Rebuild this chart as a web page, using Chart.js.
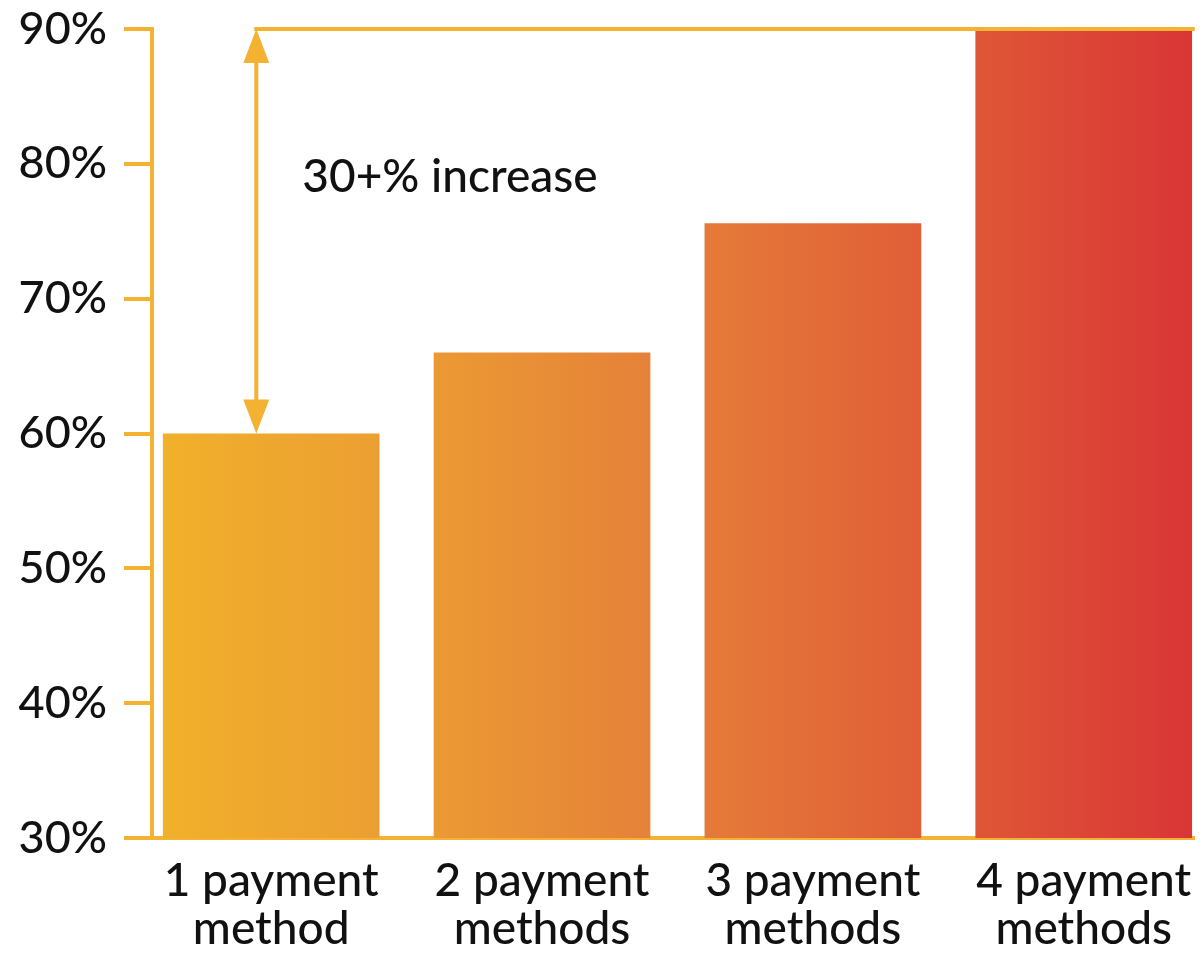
<!DOCTYPE html>
<html lang="en">
<head>
<meta charset="UTF-8" />
<title>Payment methods</title>
<script src="https://cdn.jsdelivr.net/npm/chart.js"></script>
<style>
  html, body { margin: 0; padding: 0; background: #fff; }
</style>
</head>
<body>
<canvas id="chart" width="1203" height="953"></canvas>
<script>
  const categories = [["1 payment", "method"], ["2 payment", "methods"], ["3 payment", "methods"], ["4 payment", "methods"]];
  const values = [60, 66, 75.6, 90];
  const yTicks = [30, 40, 50, 60, 70, 80, 90];
  const note = "30+% increase";

  const AXIS = "#F3B232";
  const FONT = "Lato, 'Open Sans', sans-serif";

  // gradient across the plot, yellow-orange to red
  function barFill(ctx) {
    const chart = ctx.chart;
    const area = chart.chartArea;
    if (!area) return "#E8903A";
    const g = chart.ctx.createLinearGradient(area.left, 0, area.right, 0);
    g.addColorStop(0, "#F1B12A");
    g.addColorStop(0.25, "#EB9C33");
    g.addColorStop(0.5, "#E57F3A");
    g.addColorStop(0.78, "#DF5836");
    g.addColorStop(1, "#D93536");
    return g;
  }

  // double arrow + top line + note
  const increaseArrow = {
    id: "increaseArrow",
    afterDatasetsDraw(chart) {
      const { ctx, chartArea } = chart;
      const x = chart.scales.x, y = chart.scales.y;
      const ax = x.getPixelForValue(0.945);
      const top = y.getPixelForValue(values[3]);
      const bottom = y.getPixelForValue(values[0]);
      const head = 34, half = 13;
      ctx.save();
      ctx.strokeStyle = AXIS;
      ctx.fillStyle = AXIS;
      ctx.lineWidth = 4;
      ctx.beginPath();
      ctx.moveTo(ax - 2, top);
      ctx.lineTo(chartArea.right, top);
      ctx.stroke();
      ctx.beginPath();
      ctx.moveTo(ax, top + head - 2);
      ctx.lineTo(ax, bottom - head + 2);
      ctx.stroke();
      ctx.beginPath();
      ctx.moveTo(ax, top);
      ctx.lineTo(ax - half, top + head);
      ctx.lineTo(ax + half, top + head);
      ctx.closePath();
      ctx.fill();
      ctx.beginPath();
      ctx.moveTo(ax, bottom);
      ctx.lineTo(ax - half, bottom - head);
      ctx.lineTo(ax + half, bottom - head);
      ctx.closePath();
      ctx.fill();
      ctx.fillStyle = "#111";
      ctx.font = "500 46px " + FONT;
      ctx.textBaseline = "middle";
      ctx.fillText(note, x.getPixelForValue(1.115), y.getPixelForValue(79));
      ctx.restore();
    }
  };

  new Chart(document.getElementById("chart"), {
    type: "bar",
    data: {
      datasets: [{
        data: values.map((v, i) => ({ x: i + 1, y: v })),
        backgroundColor: barFill,
        borderWidth: 0,
        barPercentage: 0.8,
        categoryPercentage: 1
      }]
    },
    options: {
      responsive: false,
      animation: false,
      layout: { padding: { top: 29, right: 8, left: 0, bottom: 0 } },
      plugins: { legend: { display: false }, tooltip: { enabled: false } },
      scales: {
        x: {
          type: "linear",
          offset: false,
          min: 0.56,
          max: 4.41,
          afterBuildTicks: (axis) => { axis.ticks = categories.map((c, i) => ({ value: i + 1 })); },
          afterFit: (scale) => { scale.height = 115; },
          grid: { display: false, offset: false },
          border: { color: AXIS, width: 4 },
          ticks: {
            autoSkip: false,
            maxRotation: 0,
            padding: 11,
            color: "#111",
            font: { family: FONT, size: 46, weight: 500, lineHeight: 1.05 },
            callback: (v) => categories[Math.round(v) - 1]
          }
        },
        y: {
          min: 30,
          max: 90,
          afterBuildTicks: (axis) => { axis.ticks = yTicks.map(v => ({ value: v })); },
          afterFit: (scale) => {
            scale.width = 152;
            scale.paddingTop = 0;
            scale.paddingBottom = 0;
          },
          grid: { drawOnChartArea: false, color: AXIS, lineWidth: 4, tickLength: 28 },
          border: { color: AXIS, width: 4 },
          ticks: {
            padding: 17,
            color: "#111",
            font: { family: FONT, size: 45, weight: 500 },
            callback: (v) => v + "%"
          }
        }
      }
    },
    plugins: [increaseArrow]
  });
</script>
</body>
</html>
